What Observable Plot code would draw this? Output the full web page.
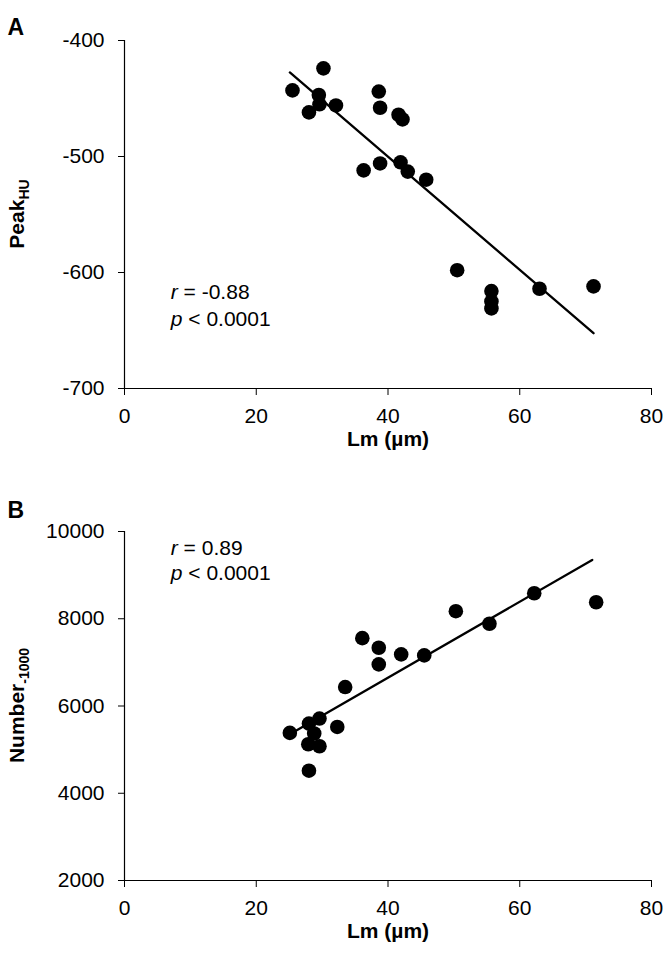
<!DOCTYPE html>
<html>
<head>
<meta charset="utf-8">
<script src="https://cdn.jsdelivr.net/npm/d3@7"></script>
<script src="https://cdn.jsdelivr.net/npm/@observablehq/plot@0.6"></script>
<style>
  html, body { margin: 0; padding: 0; background: #fff; }
  #chart { width: 669px; height: 959px; position: relative; background: #fff; }
  #chart svg { display: block; }
</style>
</head>
<body>
<div id="chart"></div>
<script>
// ---------- data ----------
const xTicks = [0, 20, 40, 60, 80];

// Panel A: Peak_HU vs Lm
const lmA   = [25.5, 30.2, 29.5, 29.6, 28.0, 32.1, 38.6, 38.8, 41.6, 42.2, 36.3, 38.8, 41.9, 43.0, 45.8, 50.5, 55.7, 55.7, 55.7, 63.0, 71.2];
const peakA = [-443, -424, -447, -455, -462, -456, -444, -458, -464, -468, -512, -506, -505, -513, -520, -598, -616, -625, -631, -614, -612];
const yTicksA = [-700, -600, -500, -400];
const trendAx = [25.1, 71.2];
const trendAy = [-427.5, -652.3];
const statsA = {r: "-0.88", p: "0.0001"};

// Panel B: Number_-1000 vs Lm
const lmB  = [25.1, 28.0, 29.6, 28.8, 27.9, 29.6, 32.3, 28.0, 33.5, 36.1, 38.6, 38.6, 42.0, 45.5, 50.3, 55.4, 62.2, 71.6];
const numB = [5383, 5597, 5712, 5369, 5124, 5078, 5520, 4517, 6434, 7555, 7336, 6954, 7183, 7160, 8173, 7885, 8584, 8379];
const yTicksB = [2000, 4000, 6000, 8000, 10000];
const trendBx = [25.1, 71.0];
const trendBy = [5350, 9348];
const statsB = {r: "0.89", p: "0.0001"};

// ---------- helpers ----------
const FONT = "'Liberation Sans', Arial, Helvetica, sans-serif";

function statText(xv, yv, italicChar, rest) {
  return (index, scales, values, dims) => {
    const t = d3.create("svg:text")
      .attr("x", scales.x(xv)).attr("y", scales.y(yv))
      .attr("dy", "0.35em")
      .attr("text-anchor", "start")
      .attr("font-size", 21).attr("font-family", FONT).attr("fill", "black");
    t.append("tspan").attr("font-style", "italic").text(italicChar);
    t.append("tspan").text(rest);
    return t.node();
  };
}

function yLabel(main, sub) {
  return (index, scales, values, dims) => {
    const cy = (dims.marginTop + dims.height - dims.marginBottom) / 2;
    const t = d3.create("svg:text")
      .attr("transform", `translate(17,${cy}) rotate(-90)`)
      .attr("text-anchor", "middle")
      .attr("dy", "0.35em")
      .attr("font-weight", "bold").attr("font-size", 21)
      .attr("font-family", FONT).attr("fill", "black");
    t.append("tspan").text(main);
    t.append("tspan").attr("font-size", 14).attr("dy", "0.3em").text(sub);
    return t.node();
  };
}

function panel({letter, lm, val, yDomain, yTicks, tx, ty, stats, statY, ylab, ysub, height, marginTop, marginBottom, letterDy}) {
  const pts = lm.map((x, i) => ({x, y: val[i]}));
  const trend = tx.map((x, i) => ({x, y: ty[i]}));
  return Plot.plot({
    width: 669, height, marginLeft: 124, marginRight: 18, marginTop, marginBottom,
    style: {fontFamily: FONT, fontSize: "21px", color: "black", background: "white", overflow: "visible"},
    x: {domain: [0, 80], ticks: xTicks, tickFormat: d => String(d), tickSize: 7, tickPadding: 13, label: null},
    y: {domain: yDomain, ticks: yTicks, tickFormat: d => String(d), tickSize: 6, tickPadding: 14, label: null},
    marks: [
      Plot.ruleX([0], {stroke: "black", strokeWidth: 1.2}),
      Plot.ruleY([yDomain[0]], {stroke: "black", strokeWidth: 1.2}),
      Plot.line(trend, {x: "x", y: "y", stroke: "black", strokeWidth: 2.3}),
      Plot.dot(pts, {x: "x", y: "y", r: 7.3, fill: "black", stroke: "none"}),
      statText(7.1, statY[0], "r", ` = ${stats.r}`),
      statText(7.1, statY[1], "p", ` < ${stats.p}`),
      Plot.text(["Lm (µm)"], {frameAnchor: "bottom", text: d => d, dy: 57, fontWeight: "bold", fontSize: 21, fill: "black"}),
      Plot.text([letter], {frameAnchor: "top-left", text: d => d, dx: -117, dy: letterDy, textAnchor: "start", fontWeight: "bold", fontSize: 23, fill: "black"}),
      yLabel(ylab, ysub)
    ]
  });
}

const chart = document.getElementById("chart");
chart.append(panel({
  letter: "A", lm: lmA, val: peakA, yDomain: [-700, -400], yTicks: yTicksA,
  tx: trendAx, ty: trendAy, stats: statsA, statY: [-617, -640],
  ylab: "Peak", ysub: "HU", height: 470, marginTop: 40, marginBottom: 82, letterDy: -22
}));
chart.append(panel({
  letter: "B", lm: lmB, val: numB, yDomain: [2000, 10000], yTicks: yTicksB,
  tx: trendBx, ty: trendBy, stats: statsB, statY: [9629, 9035],
  ylab: "Number", ysub: "-1000", height: 489, marginTop: 61, marginBottom: 79, letterDy: -30
}));
</script>
</body>
</html>
